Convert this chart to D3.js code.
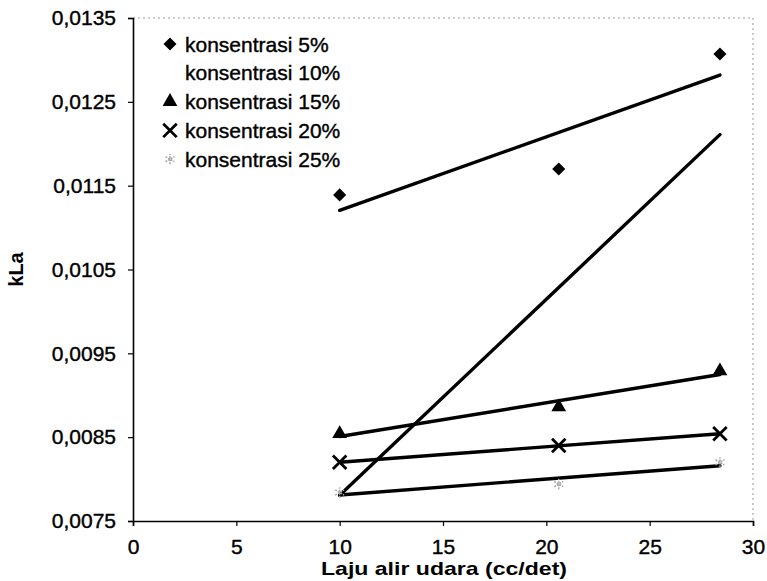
<!DOCTYPE html>
<html>
<head>
<meta charset="utf-8">
<script src="https://cdn.jsdelivr.net/npm/d3@7"></script>
<style>
  body { margin: 0; background: #fff; }
  text { font-family: Arial, "Liberation Sans", sans-serif; fill: #000; }
</style>
</head>
<body>
<svg id="chart" width="767" height="581"></svg>
<script>
// air flow rate (cc/det)
const flowRates = [10, 20.6, 28.4];

// kLa per concentration
const kla5 = [0.01139, 0.01170, 0.01307];
const kla10 = [0.00780, 0.01030, 0.01210];
const kla15 = [0.00854, 0.00886, 0.00929];
const kla20 = [0.00820, 0.00840, 0.00854];
const kla25 = [0.00784, 0.00794, 0.00820];

const seriesNames = ["konsentrasi 5%", "konsentrasi 10%", "konsentrasi 15%", "konsentrasi 20%", "konsentrasi 25%"];
const seriesValues = [kla5, kla10, kla15, kla20, kla25];
const seriesSymbols = ["diamond", "none", "triangle", "times", "asterisk"];

const xTicks = [0, 5, 10, 15, 20, 25, 30];
const yTicks = [0.0075, 0.0085, 0.0095, 0.0105, 0.0115, 0.0125, 0.0135];

const margin = {top: 18, right: 14, bottom: 60, left: 133};
const width = 767, height = 581;

const svg = d3.select("#chart");

const x = d3.scaleLinear().domain([0, 30]).range([margin.left, width - margin.right]);
const y = d3.scaleLinear().domain([0.0075, 0.0135]).range([height - margin.bottom, margin.top]);

const locale = d3.formatLocale({decimal: ",", thousands: ".", grouping: [3], currency: ["", ""]});
const fmtY = locale.format(".4f");

// dotted top / right border
svg.append("path")
    .attr("d", `M${x(0)},${y(0.0135)}H${x(30)}V${y(0.0075)}`)
    .attr("fill", "none")
    .attr("stroke", "#999")
    .attr("stroke-width", 1)
    .attr("stroke-dasharray", "2,3");

// axes
const xAxis = svg.append("g")
    .attr("transform", `translate(0,${y(0.0075)})`)
    .call(d3.axisBottom(x).tickValues(xTicks).tickSize(5).tickPadding(13).tickFormat(d3.format("d")));

const yAxis = svg.append("g")
    .attr("transform", `translate(${x(0)},0)`)
    .call(d3.axisLeft(y).tickValues(yTicks).tickSize(5).tickPadding(12).tickFormat(fmtY));

[xAxis, yAxis].forEach(g => {
  g.select(".domain").attr("stroke", "#000").attr("stroke-width", 1.6);
  g.selectAll(".tick line").attr("stroke", "#000").attr("stroke-width", 1.2);
  g.selectAll(".tick text").attr("font-size", 21).attr("fill", "#000")
      .attr("stroke", "#000").attr("stroke-width", 0.4)
      .attr("font-family", "Arial, 'Liberation Sans', sans-serif");
});

// axis titles
svg.append("text")
    .attr("x", 444).attr("y", 575)
    .attr("text-anchor", "middle")
    .attr("font-size", 19).attr("font-weight", "bold")
    .attr("textLength", 246).attr("lengthAdjust", "spacingAndGlyphs")
    .text("Laju alir udara (cc/det)");

svg.append("text")
    .attr("transform", `translate(23,${(y(0.0075) + y(0.0135)) / 2}) rotate(-90)`)
    .attr("text-anchor", "middle")
    .attr("font-size", 20).attr("font-weight", "bold")
    .text("kLa");

// least squares trend line
function trend(xs, ys) {
  const mx = d3.mean(xs), my = d3.mean(ys);
  const sxy = d3.sum(xs, (v, i) => (v - mx) * (ys[i] - my));
  const sxx = d3.sum(xs, v => (v - mx) * (v - mx));
  const b = sxy / sxx, a = my - b * mx;
  const x0 = d3.min(xs), x1 = d3.max(xs);
  return [[x0, a + b * x0], [x1, a + b * x1]];
}

const line = d3.line().x(d => x(d[0])).y(d => y(d[1]));

seriesValues.forEach(vals => {
  svg.append("path")
      .attr("d", line(trend(flowRates, vals)))
      .attr("fill", "none")
      .attr("stroke", "#000")
      .attr("stroke-width", 3.4)
      .attr("stroke-linecap", "round");
});

// markers
function drawMarker(g, kind) {
  if (kind === "diamond") {
    g.append("path").attr("d", d3.symbol(d3.symbolSquare, 85)())
        .attr("transform", "rotate(45)").attr("fill", "#000");
  } else if (kind === "triangle") {
    g.append("path").attr("d", d3.symbol(d3.symbolTriangle, 95)()).attr("fill", "#000");
  } else if (kind === "times") {
    g.append("path").attr("d", d3.symbol(d3.symbolTimes, 120)())
        .attr("fill", "none").attr("stroke", "#000").attr("stroke-width", 2.8);
  } else if (kind === "asterisk") {
    g.append("path").attr("d", d3.symbol(d3.symbolAsterisk, 75)())
        .attr("fill", "none").attr("stroke", "#aaa").attr("stroke-width", 1.6)
        .attr("stroke-dasharray", "2,1");
  }
}

seriesValues.forEach((vals, si) => {
  vals.forEach((v, i) => {
    const g = svg.append("g").attr("transform", `translate(${x(flowRates[i])},${y(v)})`);
    drawMarker(g, seriesSymbols[si]);
  });
});

// legend
const legend = svg.append("g").attr("transform", "translate(170,44)");
seriesNames.forEach((name, i) => {
  const row = legend.append("g").attr("transform", `translate(0,${i * 28.8})`);
  drawMarker(row, seriesSymbols[i]);
  row.append("text")
      .attr("x", 15).attr("y", 7.5)
      .attr("font-size", 21)
      .attr("stroke", "#000").attr("stroke-width", 0.4)
      .text(name);
});
</script>
</body>
</html>
